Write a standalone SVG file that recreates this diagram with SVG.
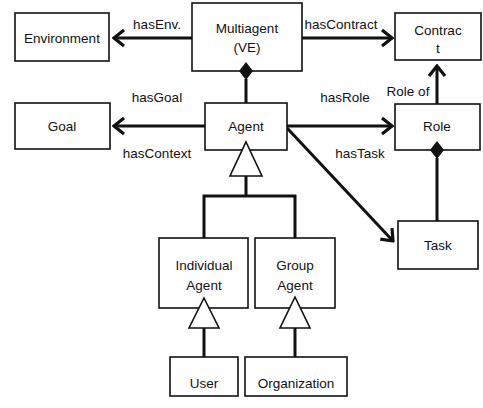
<svg xmlns="http://www.w3.org/2000/svg" width="483" height="408" viewBox="0 0 483 408">
  <style>
    .box { fill: #ffffff; stroke: #111; stroke-width: 1.6; }
    .lbl { font-family: "Liberation Sans", Arial, sans-serif; font-size: 13.5px; fill: #111; text-anchor: middle; }
    .conn { fill: none; stroke: #111; stroke-width: 3; }
    .arrow { marker-end: url(#open); }
    .gen { fill: #ffffff; stroke: #111; stroke-width: 1.6; stroke-linejoin: miter; }
    .comp { fill: #111; stroke: none; }
  </style>
  <defs>
    <marker id="open" markerUnits="userSpaceOnUse" viewBox="-14 -10 16 20" refX="0" refY="0" markerWidth="16" markerHeight="20" orient="auto">
      <path d="M-10,-8 L0,0 L-10,8" fill="none" stroke="#111" stroke-width="3.2" stroke-linejoin="miter"/>
    </marker>
  </defs>
  <rect width="483" height="408" fill="#ffffff"/>

  <!-- connectors -->
  <g id="connectors">
    <line class="conn arrow" x1="192" y1="38" x2="114" y2="38"/>
    <line class="conn arrow" x1="302" y1="38" x2="392" y2="38"/>
    <line class="conn arrow" x1="205" y1="126" x2="114" y2="126"/>
    <line class="conn arrow" x1="287" y1="126" x2="392" y2="126"/>
    <line class="conn arrow" x1="287" y1="128" x2="393" y2="241"/>
    <line class="conn arrow" x1="437" y1="104" x2="437" y2="66"/>
    <!-- composition: Agent part of Multiagent -->
    <line class="conn" x1="246" y1="79" x2="246" y2="103"/>
    <!-- composition: Task part of Role -->
    <line class="conn" x1="437" y1="158" x2="437" y2="221"/>
    <!-- generalisation tree under Agent -->
    <polyline class="conn" points="246,176 246,196"/>
    <polyline class="conn" points="204,238 204,196 295,196 295,238"/>
    <line class="conn" x1="204" y1="328" x2="204" y2="357"/>
    <line class="conn" x1="295" y1="328" x2="295" y2="357"/>
    <!-- connector labels -->
    <text class="lbl" x="157" y="29">hasEnv.</text>
    <text class="lbl" x="341" y="29">hasContract</text>
    <text class="lbl" x="157" y="102">hasGoal</text>
    <text class="lbl" x="157" y="158">hasContext</text>
    <text class="lbl" x="345" y="102">hasRole</text>
    <text class="lbl" x="360" y="158">hasTask</text>
    <text class="lbl" x="408" y="96">Role of</text>
  </g>

  <g id="environment">
    <rect class="box" x="15" y="13" width="94" height="48"/>
    <text class="lbl" x="62" y="43">Environment</text>
  </g>
  <g id="multiagent">
    <rect class="box" x="192" y="3" width="110" height="68"/>
    <text class="lbl" x="247" y="33">Multiagent</text>
    <text class="lbl" x="247" y="52">(VE)</text>
    <polygon class="comp" points="246,62 253,71 246,80 239,71"/>
  </g>
  <g id="contract">
    <rect class="box" x="395" y="13" width="86" height="47"/>
    <text class="lbl" x="438" y="35">Contrac</text>
    <text class="lbl" x="438" y="53">t</text>
  </g>
  <g id="goal">
    <rect class="box" x="15" y="103" width="95" height="46"/>
    <text class="lbl" x="62" y="131">Goal</text>
  </g>
  <g id="agent">
    <rect class="box" x="205" y="103" width="82" height="47"/>
    <text class="lbl" x="246" y="131">Agent</text>
    <polygon class="gen" points="246,142 262,176 230,176"/>
  </g>
  <g id="role">
    <rect class="box" x="395" y="104" width="85" height="46"/>
    <text class="lbl" x="437" y="131">Role</text>
    <polygon class="comp" points="437,141 444,150 437,159 430,150"/>
  </g>
  <g id="task">
    <rect class="box" x="398" y="221" width="80" height="48"/>
    <text class="lbl" x="438" y="250">Task</text>
  </g>
  <g id="individual-agent">
    <rect class="box" x="159" y="238" width="89" height="70"/>
    <text class="lbl" x="204" y="270">Individual</text>
    <text class="lbl" x="204" y="290">Agent</text>
    <polygon class="gen" points="204,298 219,328 189,328"/>
  </g>
  <g id="group-agent">
    <rect class="box" x="255" y="238" width="80" height="70"/>
    <text class="lbl" x="295" y="270">Group</text>
    <text class="lbl" x="295" y="290">Agent</text>
    <polygon class="gen" points="295,297 310,328 280,328"/>
  </g>
  <g id="user">
    <rect class="box" x="170" y="357" width="68" height="39"/>
    <text class="lbl" x="204" y="388">User</text>
  </g>
  <g id="organization">
    <rect class="box" x="245" y="357" width="102" height="39"/>
    <text class="lbl" x="296" y="388">Organization</text>
  </g>
</svg>
